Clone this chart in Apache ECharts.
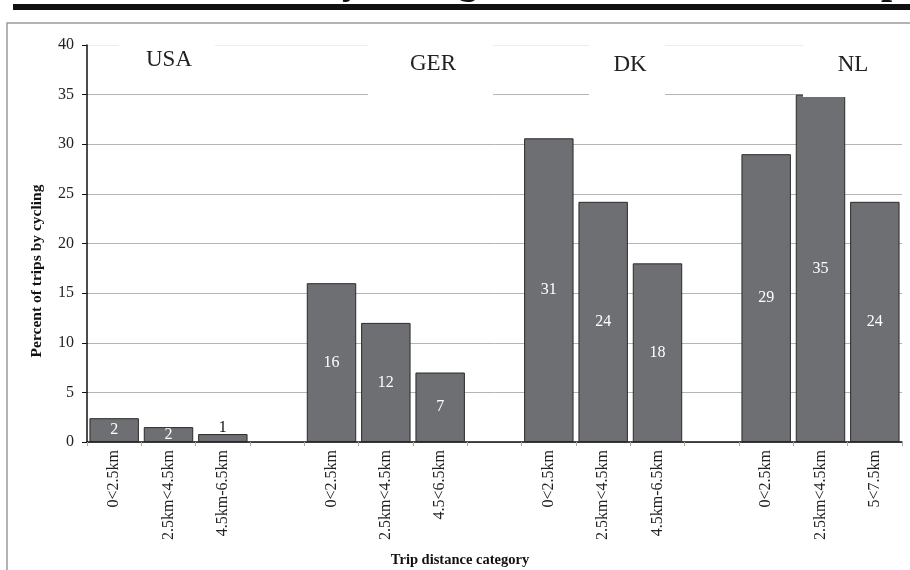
<!DOCTYPE html>
<html>
<head>
<meta charset="utf-8">
<script src="https://cdn.jsdelivr.net/npm/echarts@6/dist/echarts.min.js"></script>
<style>
html,body{margin:0;padding:0;background:#fff;}
#chart{width:910px;height:570px;}
</style>
</head>
<body>
<div id="chart"></div>
<script>
const countries = ['USA', 'GER', 'DK', 'NL'];
const usaCats = ['0<2.5km', '2.5km<4.5km', '4.5km-6.5km'];
const gerCats = ['0<2.5km', '2.5km<4.5km', '4.5<6.5km'];
const dkCats = ['0<2.5km', '2.5km<4.5km', '4.5km-6.5km'];
const nlCats = ['0<2.5km', '2.5km<4.5km', '5<7.5km'];
const usaVals = [2.4, 1.5, 0.8];
const gerVals = [16, 12, 7];
const dkVals = [30.6, 24.2, 18];
const nlVals = [29, 35, 24.2];
const yTicks = [0, 5, 10, 15, 20, 25, 30, 35, 40];
const yTitle = 'Percent of trips by cycling';
const xTitle = 'Trip distance category';

const groupsCats = [usaCats, gerCats, dkCats, nlCats];
const groupsVals = [usaVals, gerVals, dkVals, nlVals];
const categories = [];
const values = [];
groupsCats.forEach((cats, gi) => {
  if (gi > 0) { categories.push(''); values.push('-'); }
  cats.forEach((c, i) => { categories.push(c); values.push(groupsVals[gi][i]); });
});

const FONT = '"Liberation Serif", "Times New Roman", serif';
const chart = echarts.init(document.getElementById('chart'), null, {renderer: 'canvas'});

const seriesData = values.map(v => {
  if (v === '-') return v;
  if (v < 1) return {value: v, label: {position: 'top', color: '#111', distance: -2}};
  return v;
});

const gridColors = yTicks.map((t, i) => i === yTicks.length - 1 ? '#ececec' : '#b4b4b4');

// country label boxes (annotation overlays)
const countryBoxes = [
  {x: 119, w: 96, h: 50, tx: 169, ty: 60},
  {x: 368, w: 125, h: 59, tx: 433, ty: 64},
  {x: 589, w: 76, h: 59, tx: 630, ty: 65},
  {x: 803, w: 99, h: 59, tx: 853, ty: 65}
];
const glyphStyle = t => ({text: t, font: 'bold 40px ' + FONT, fill: '#111', align: 'center', verticalAlign: 'top'});
const graphics = [
  {type: 'rect', z: 0, silent: true, shape: {x: 7, y: 23, width: 920, height: 570},
   style: {fill: 'none', stroke: '#9a9a9a', lineWidth: 1.5}},
  {type: 'rect', z: 0, silent: true, shape: {x: 13, y: 4, width: 910, height: 6},
   style: {fill: '#111'}},
  {type: 'text', z: 0, x: 352, y: -37, style: glyphStyle('y')},
  {type: 'text', z: 0, x: 468, y: -37, style: glyphStyle('g')},
  {type: 'text', z: 0, x: 892, y: -37, style: glyphStyle('p')},
  {type: 'text', z: 10, x: 37, y: 271, rotation: Math.PI / 2,
   style: {text: yTitle, font: 'bold 15.5px ' + FONT, fill: '#111', align: 'center', verticalAlign: 'middle'}},
  {type: 'text', z: 10, x: 460, y: 560,
   style: {text: xTitle, font: 'bold 14.5px ' + FONT, fill: '#111', align: 'center', verticalAlign: 'middle'}}
];
countryBoxes.forEach((b, i) => {
  graphics.push({type: 'rect', z: 20, silent: true, shape: {x: b.x, y: 38, width: b.w, height: b.h}, style: {fill: '#fff'}});
  graphics.push({type: 'text', z: 21, x: b.tx, y: b.ty,
    style: {text: countries[i], font: '23px ' + FONT, fill: '#222', align: 'center', verticalAlign: 'middle'}});
});

chart.setOption({
  animation: false,
  backgroundColor: '#fff',
  grid: {left: 87, right: 8, top: 45, bottom: 128, containLabel: false},
  xAxis: {
    type: 'category',
    data: categories,
    boundaryGap: true,
    axisLine: {show: true, lineStyle: {color: '#111', width: 1.5}},
    axisTick: {show: true, interval: 0, length: 4, lineStyle: {color: '#aaa'}},
    axisLabel: {interval: 0, rotate: 90, margin: 8, fontFamily: FONT, fontSize: 16, color: '#222'},
    splitLine: {show: false}
  },
  yAxis: {
    type: 'value',
    min: yTicks[0],
    max: yTicks[yTicks.length - 1],
    interval: yTicks[1] - yTicks[0],
    axisLine: {show: true, lineStyle: {color: '#111', width: 1.5}},
    axisTick: {show: true, length: 5, lineStyle: {color: '#111'}},
    axisLabel: {margin: 13, fontFamily: FONT, fontSize: 16, color: '#222'},
    splitLine: {show: true, lineStyle: {color: gridColors, width: 1}}
  },
  series: [{
    type: 'bar',
    data: seriesData,
    barCategoryGap: '9%',
    itemStyle: {color: '#6e6f73', borderColor: '#2a2a2a', borderWidth: 1},
    label: {
      show: true,
      position: 'inside',
      color: '#fff',
      fontFamily: FONT,
      fontSize: 16,
      formatter: p => String(Math.round(p.value))
    }
  }],
  graphic: graphics
});
</script>
</body>
</html>
